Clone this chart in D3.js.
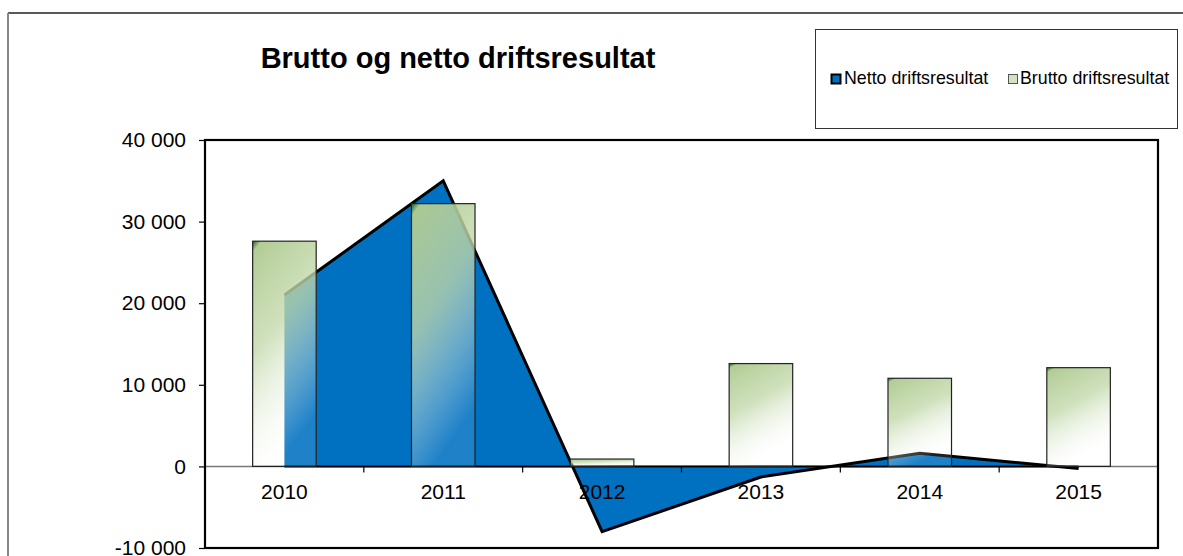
<!DOCTYPE html>
<html>
<head>
<meta charset="utf-8">
<script src="https://cdn.jsdelivr.net/npm/d3@7"></script>
<style>
  body { margin: 0; background: #fff; }
  svg { display: block; font-family: "Liberation Sans", Arial, sans-serif; }
</style>
</head>
<body>
<svg id="chart" width="1183" height="556"></svg>
<script>
// data
var years = ["2010", "2011", "2012", "2013", "2014", "2015"];
var netto = [21000, 35000, -8000, -1300, 1600, -250];
var brutto = [27600, 32200, 900, 12600, 10800, 12100];
var yTicks = [-10000, 0, 10000, 20000, 30000, 40000];

var svg = d3.select("#chart");

var plot = {left: 205, right: 1158, top: 140, bottom: 548};

var x = d3.scaleBand().domain(years).range([plot.left, plot.right]).padding(0);
var y = d3.scaleLinear().domain([-10000, 40000]).range([plot.bottom, plot.top]);

var bw = x.bandwidth();
var barW = bw * 0.4;
var cx = function(d) { return x(d) + bw / 2; };

// space as thousands separator, plain hyphen for minus
var fmt = function(v) { return d3.format(",")(v).replace(/,/g, " ").replace("\u2212", "-"); };

// gradient for bars
var defs = svg.append("defs");
var grad = defs.append("linearGradient")
    .attr("id", "barGrad")
    .attr("x1", 0).attr("y1", 0).attr("x2", 0.35).attr("y2", 1);
grad.append("stop").attr("offset", 0).attr("stop-color", "#15651a").attr("stop-opacity", 1);
grad.append("stop").attr("offset", 0.045).attr("stop-color", "#b0cb92").attr("stop-opacity", 0.97);
grad.append("stop").attr("offset", 0.45).attr("stop-color", "#c2d8aa").attr("stop-opacity", 0.78);
grad.append("stop").attr("offset", 1).attr("stop-color", "#ffffff").attr("stop-opacity", 0.12);

// outer chart frame (cropped)
svg.append("line").attr("x1", 8).attr("x2", 1183).attr("y1", 13).attr("y2", 13)
    .attr("stroke", "#222").attr("stroke-width", 1.5);
svg.append("line").attr("x1", 8).attr("x2", 8).attr("y1", 13).attr("y2", 556)
    .attr("stroke", "#888").attr("stroke-width", 2);

// title
svg.append("text")
    .attr("x", 458).attr("y", 68)
    .attr("text-anchor", "middle")
    .attr("font-size", 29).attr("font-weight", "bold")
    .text("Brutto og netto driftsresultat");

// legend
var lg = svg.append("g");
lg.append("rect").attr("x", 815.5).attr("y", 29.5).attr("width", 362).attr("height", 99)
    .attr("fill", "#fff").attr("stroke", "#333").attr("stroke-width", 1);
lg.append("rect").attr("x", 831.5).attr("y", 74.5).attr("width", 9).attr("height", 9)
    .attr("fill", "#0070c0").attr("stroke", "#000").attr("stroke-width", 2);
lg.append("text").attr("x", 844).attr("y", 84).attr("font-size", 17.8).text("Netto driftsresultat");
lg.append("rect").attr("x", 1008.5).attr("y", 74.5).attr("width", 9).attr("height", 9)
    .attr("fill", "#d3e3c0").attr("stroke", "#555").attr("stroke-width", 1);
lg.append("text").attr("x", 1020).attr("y", 84).attr("font-size", 17.8).text("Brutto driftsresultat");

var g = svg.append("g");

// netto area
var area = d3.area()
    .x(function(d, i) { return cx(years[i]); })
    .y0(y(0))
    .y1(function(d) { return y(d); });
var line = d3.line()
    .x(function(d, i) { return cx(years[i]); })
    .y(function(d) { return y(d); });

g.append("path").datum(netto)
    .attr("d", area)
    .attr("fill", "#0070c0");

// zero axis line
g.append("line")
    .attr("x1", plot.left).attr("x2", plot.right)
    .attr("y1", y(0)).attr("y2", y(0))
    .attr("stroke", "#777").attr("stroke-width", 1.5);
g.append("line")
    .attr("x1", cx(years[0])).attr("x2", cx(years[years.length - 1]))
    .attr("y1", y(0)).attr("y2", y(0))
    .attr("stroke", "#000").attr("stroke-width", 2);

g.append("path").datum(netto)
    .attr("d", line)
    .attr("fill", "none")
    .attr("stroke", "#000").attr("stroke-width", 3)
    .attr("stroke-linejoin", "miter");

// brutto bars
g.selectAll(".bar")
    .data(brutto)
  .enter().append("rect")
    .attr("class", "bar")
    .attr("x", function(d, i) { return cx(years[i]) - barW / 2; })
    .attr("y", function(d) { return y(d); })
    .attr("width", barW)
    .attr("height", function(d) { return y(0) - y(d); })
    .attr("fill", "url(#barGrad)")
    .attr("stroke", "#222").attr("stroke-width", 1.2);

// category ticks at band boundaries
var bounds = years.slice(1).map(function(d) { return x(d); });
g.selectAll(".xtick")
    .data(bounds)
  .enter().append("line")
    .attr("x1", function(d) { return d; }).attr("x2", function(d) { return d; })
    .attr("y1", y(0)).attr("y2", y(0) + 6)
    .attr("stroke", "#000").attr("stroke-width", 1.2);

// x labels
var xAxis = g.append("g")
    .attr("transform", "translate(0," + y(0) + ")")
    .call(d3.axisBottom(x).tickSize(0).tickPadding(18));
xAxis.select(".domain").remove();
xAxis.selectAll("text").attr("font-size", 21).attr("fill", "#000")
    .attr("font-family", "'Liberation Sans', Arial, sans-serif");

// y axis
var yAxis = g.append("g")
    .attr("transform", "translate(" + plot.left + ",0)")
    .call(d3.axisLeft(y).tickValues(yTicks).tickFormat(fmt).tickSize(6).tickPadding(13));
yAxis.select(".domain").remove();
yAxis.selectAll("line").attr("stroke", "#000").attr("stroke-width", 1.2);
yAxis.selectAll("text").attr("font-size", 21).attr("fill", "#000")
    .attr("font-family", "'Liberation Sans', Arial, sans-serif");

// plot frame
g.append("rect")
    .attr("x", plot.left).attr("y", plot.top)
    .attr("width", plot.right - plot.left).attr("height", plot.bottom - plot.top)
    .attr("fill", "none").attr("stroke", "#000").attr("stroke-width", 2.2);
</script>
</body>
</html>
